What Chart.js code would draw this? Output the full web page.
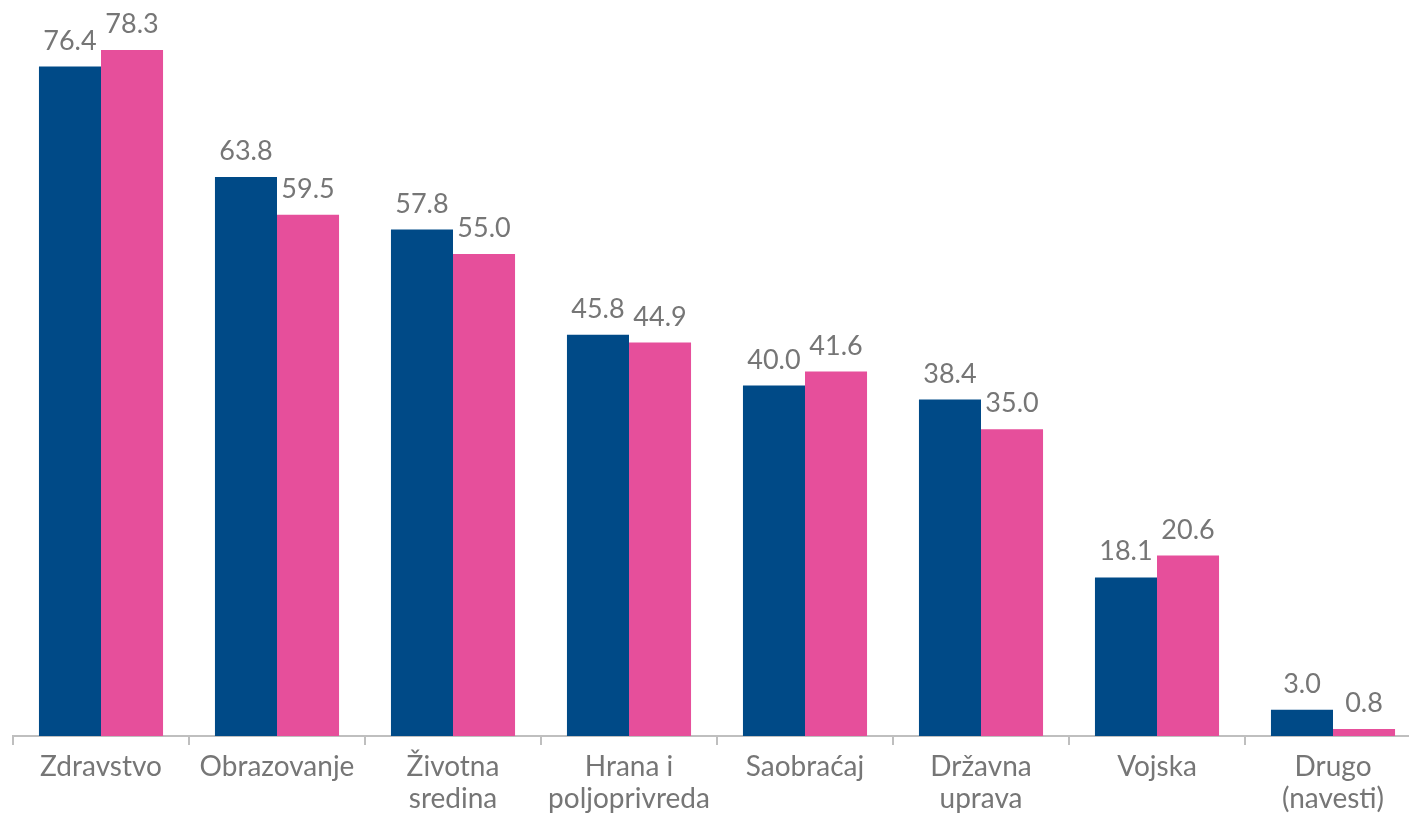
<!DOCTYPE html>
<html>
<head>
<meta charset="utf-8">
<script src="https://cdn.jsdelivr.net/npm/chart.js@4/dist/chart.umd.min.js"></script>
<style>
  html, body { margin: 0; padding: 0; background: #fff; overflow: hidden; }
  #wrap { width: 1430px; height: 816px; }
</style>
</head>
<body>
<div id="wrap"><canvas id="chart"></canvas></div>
<script>
var categories = ['Zdravstvo', 'Obrazovanje', ['Životna', 'sredina'], ['Hrana i', 'poljoprivreda'],
    'Saobraćaj', ['Državna', 'uprava'], 'Vojska', ['Drugo', '(navesti)']];
var series1 = [76.4, 63.8, 57.8, 45.8, 40.0, 38.4, 18.1, 3.0];
var series2 = [78.3, 59.5, 55.0, 44.9, 41.6, 35.0, 20.6, 0.8];

var textGray = '#767676';
var fontFamily = 'Lato, "Open Sans", sans-serif';

// draws the value above each bar
var valueLabels = {
    id: 'valueLabels',
    afterDatasetsDraw: function (chart) {
        var ctx = chart.ctx;
        ctx.save();
        ctx.fillStyle = textGray;
        ctx.font = '27px ' + fontFamily;
        ctx.textAlign = 'center';
        ctx.textBaseline = 'alphabetic';
        chart.data.datasets.forEach(function (ds, i) {
            var meta = chart.getDatasetMeta(i);
            meta.data.forEach(function (bar, j) {
                ctx.fillText(ds.data[j].toFixed(1), bar.x, bar.y - 17);
            });
        });
        ctx.restore();
    }
};

var chart = new Chart(document.getElementById('chart'), {
    type: 'bar',
    data: {
        labels: categories,
        datasets: [{
            label: 'Serija 1',
            data: series1,
            backgroundColor: '#004A87'
        }, {
            label: 'Serija 2',
            data: series2,
            backgroundColor: '#E64F9B'
        }]
    },
    options: {
        responsive: true,
        maintainAspectRatio: false,
        animation: false,
        categoryPercentage: 0.705,
        barPercentage: 1.0,
        layout: { padding: { left: 13, right: 9, top: 0, bottom: 0 } },
        plugins: {
            legend: { display: false },
            tooltip: { enabled: false }
        },
        scales: {
            x: {
                grid: {
                    offset: true,
                    drawOnChartArea: false,
                    tickLength: 9,
                    color: '#BFBFBF',
                    lineWidth: 2
                },
                border: { color: '#BFBFBF', width: 2 },
                ticks: {
                    color: textGray,
                    font: { family: fontFamily, size: 28, lineHeight: 1.15 },
                    padding: 6,
                    maxRotation: 0,
                    autoSkip: false
                },
                afterFit: function (scale) { scale.height = 80; }
            },
            y: {
                display: false,
                min: 0,
                max: 84
            }
        }
    },
    plugins: [valueLabels]
});
</script>
</body>
</html>
